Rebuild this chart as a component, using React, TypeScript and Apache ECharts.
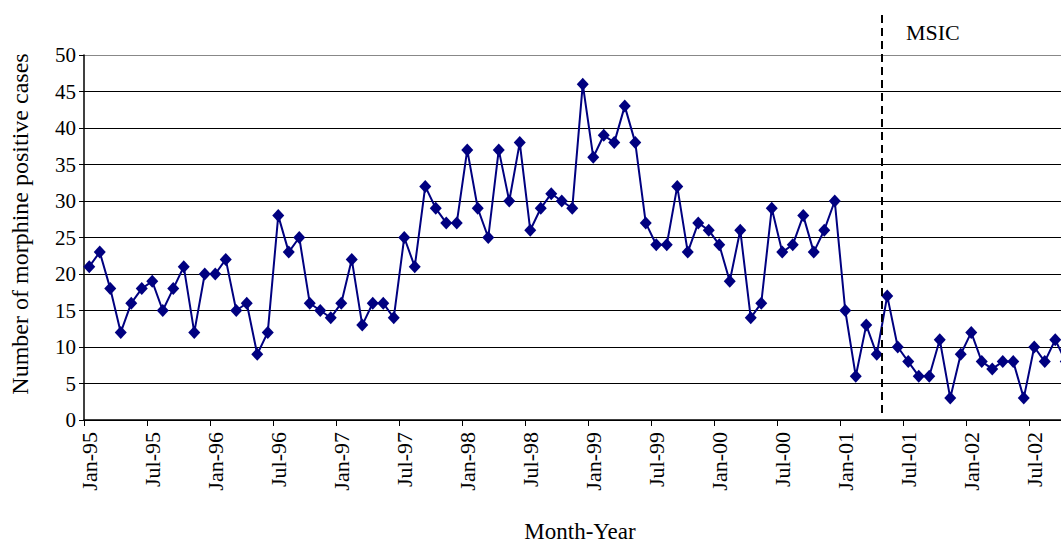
import React, { useEffect, useRef } from 'react';
import * as echarts from 'echarts';

const monthNames = ['Jan', 'Feb', 'Mar', 'Apr', 'May', 'Jun', 'Jul', 'Aug', 'Sep', 'Oct', 'Nov', 'Dec'];
const yearNames = ['95', '96', '97', '98', '99', '00', '01', '02'];

const cases = [
  21, 23, 18, 12, 16, 18, 19, 15, 18, 21, 12, 20,
  20, 22, 15, 16, 9, 12, 28, 23, 25, 16, 15, 14,
  16, 22, 13, 16, 16, 14, 25, 21, 32, 29, 27, 27,
  37, 29, 25, 37, 30, 38, 26, 29, 31, 30, 29, 46,
  36, 39, 38, 43, 38, 27, 24, 24, 32, 23, 27, 26,
  24, 19, 26, 14, 16, 29, 23, 24, 28, 23, 26, 30,
  15, 6, 13, 9, 17, 10, 8, 6, 6, 11, 3, 9,
  12, 8, 7, 8, 8, 3, 10, 8, 11, 8,
];

const categories: string[] = [];
yearNames.forEach((y) => monthNames.forEach((m) => categories.push(`${m}-${y}`)));
categories.length = cases.length;

const yMin = 0;
const yMax = 50;
const yStep = 5;

const lastMonthBefore = 'Apr-01';
const firstMonthAfter = 'May-01';
const interventionLabel = 'MSIC';

const yTitle = 'Number of morphine positive cases';
const xTitle = 'Month-Year';

const FONT = '"Liberation Serif", "Times New Roman", serif';

export default function App() {
  const ref = useRef<HTMLDivElement>(null);

  useEffect(() => {
    if (!ref.current) return;
    const chart = echarts.init(ref.current, undefined, { renderer: 'svg' });
    const gridColors = ['#000', '#000', '#000', '#000', '#000', '#000', '#000', '#000', '#000', '#000', '#888'];
    chart.setOption({
      animation: false,
      backgroundColor: '#fff',
      textStyle: { fontFamily: FONT },
      grid: { left: 84, right: 0, top: 55, bottom: 122, containLabel: false },
      xAxis: {
        type: 'category',
        data: categories,
        boundaryGap: true,
        axisLine: { show: true, lineStyle: { color: '#000', width: 1.5 } },
        axisTick: { show: true, interval: 5, length: 6, alignWithLabel: false, lineStyle: { color: '#000' } },
        axisLabel: {
          interval: 5,
          rotate: 90,
          margin: 12,
          fontSize: 22,
          color: '#000',
          fontFamily: FONT,
        },
        splitLine: { show: false },
      },
      yAxis: {
        type: 'value',
        min: yMin,
        max: yMax,
        interval: yStep,
        axisLine: { show: true, lineStyle: { color: '#000', width: 1.5 } },
        axisTick: { show: true, length: 5, lineStyle: { color: '#000' } },
        axisLabel: { fontSize: 21, color: '#000', margin: 8, fontFamily: FONT },
        splitLine: { show: true, lineStyle: { color: gridColors, width: 1 } },
      },
      series: [
        {
          type: 'line',
          data: cases,
          symbol: 'diamond',
          symbolSize: [12, 13],
          showAllSymbol: true,
          clip: false,
          lineStyle: { color: '#000080', width: 2 },
          itemStyle: { color: '#000080' },
        },
      ],
    });

    const xa = chart.convertToPixel({ xAxisIndex: 0 }, lastMonthBefore) as number;
    const xb = chart.convertToPixel({ xAxisIndex: 0 }, firstMonthAfter) as number;
    const xm = (xa + xb) / 2;

    chart.setOption({
      graphic: [
        {
          type: 'line',
          shape: { x1: xm, y1: 15, x2: xm, y2: 414 },
          style: { stroke: '#000', lineWidth: 2, lineDash: [8, 5] },
          z: 10,
        },
        {
          type: 'text',
          x: xm + 24,
          y: 32,
          style: { text: interventionLabel, fontSize: 22, fontFamily: FONT, fill: '#000', align: 'left', verticalAlign: 'middle' },
        },
        {
          type: 'text',
          x: 20,
          y: 224,
          rotation: Math.PI / 2,
          style: { text: yTitle, fontSize: 24, fontFamily: FONT, fill: '#000', align: 'center', verticalAlign: 'middle' },
        },
        {
          type: 'text',
          x: 580,
          y: 531,
          style: { text: xTitle, fontSize: 23, fontFamily: FONT, fill: '#000', align: 'center', verticalAlign: 'middle' },
        },
      ],
    });

    return () => chart.dispose();
  }, []);

  return (
    <div
      ref={ref}
      style={{ position: 'fixed', left: 0, top: 0, width: 1071, height: 542 }}
    />
  );
}
